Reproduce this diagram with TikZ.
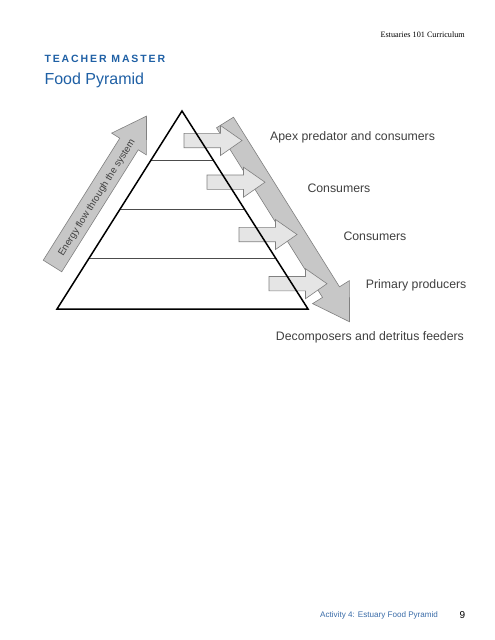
\documentclass[tikz,border=0pt]{standalone}
\usepackage{fontspec}
\setmainfont{Liberation Sans}
\newfontfamily\headerfont{Liberation Serif}
\usepackage{xcolor}
\usetikzlibrary{calc}
\definecolor{titleblue}{RGB}{31,96,165}
\definecolor{footblue}{RGB}{58,108,168}
\tikzset{
	layer/.style={draw=black!70, line width=1pt},
	edge/.style={draw=black, line width=1.5pt, line join=miter},
	flowarrow/.style={fill=black!22, draw=black!50, line width=0.6pt},
	steparrow/.style={fill=black!10, draw=black!50, line width=0.6pt},
	tierlabel/.style={anchor=base west, inner sep=0pt, text=black!75,
			font=\fontsize{12.3}{14}\selectfont}
}
% tail point, angle, length, half shaft, half head, head length
\newcommand{\fatarrow}[7]{%
	\draw[#1,shift={#2},rotate=#3] (0,#5) -- ({#4-#7},#5) -- ({#4-#7},#6) -- (#4,0)
	-- ({#4-#7},-#6) -- ({#4-#7},-#5) -- (0,-#5) -- cycle;}

\begin{document}
\begin{tikzpicture}[x=1pt,y=-1pt]
	\fill[white] (0,0) rectangle (495,640);
	\useasboundingbox (0,0) rectangle (495,640);

	\node[anchor=base east, inner sep=0pt, font=\headerfont\fontsize{8.2}{10}\selectfont] (series) at (465,37) {Estuaries 101 Curriculum};
	\node[anchor=base west, inner sep=0pt, text=titleblue,
		font={\bfseries\fontsize{10.5}{12}\selectfont\addfontfeatures{LetterSpace=18}}] (master) at (44.3,62.3) {TEACHER MASTER};
	\node[anchor=base west, inner sep=0pt, text=titleblue, font=\fontsize{16}{19}\selectfont] (title) at (44.3,84) {Food Pyramid};

	\coordinate (apex) at (182,111);
	\coordinate (bl) at (57,309);
	\coordinate (br) at (308,309);
	\foreach \t in {0.252,0.495,0.747}
		\draw[layer] ($(apex)!\t!(bl)$) -- ($(apex)!\t!(br)$);

	\fatarrow{flowarrow}{(225,122.5)}{-58}{235}{10}{21.7}{35}
	\foreach \x/\y in {184/140.5, 207/182.2, 239/234.5, 269/283.7}{
		\fatarrow{steparrow}{(\x,\y)}{0}{58}{7.2}{15}{21.5}
	}

	\draw[edge] (apex) -- (bl) -- (br) -- cycle;

	\fatarrow{flowarrow}{(52.5,266)}{57.9}{177}{10.9}{20.5}{33}
	\node[rotate=57.9, inner sep=0pt, text=black!75, font=\fontsize{9.7}{11}\selectfont] (energy) at (97,198) {Energy flow through the system};

	\node[tierlabel] (apexlbl) at (270,140.7) {Apex predator and consumers};
	\node[tierlabel] (cons1) at (307.3,192.7) {Consumers};
	\node[tierlabel] (cons2) at (343.3,240.4) {Consumers};
	\node[tierlabel] (prim) at (365.7,288.7) {Primary producers};
	\node[tierlabel] (decomp) at (275.7,340.4) {Decomposers and detritus feeders};

	\node[anchor=base west, inner sep=0pt, text=footblue, font=\fontsize{8.1}{10}\selectfont] (footer) at (320,617.5) {Activity 4: Estuary Food Pyramid};
	\node[anchor=base west, inner sep=0pt, font=\fontsize{10}{12}\selectfont] (page) at (459.5,618) {9};
\end{tikzpicture}
\end{document}
